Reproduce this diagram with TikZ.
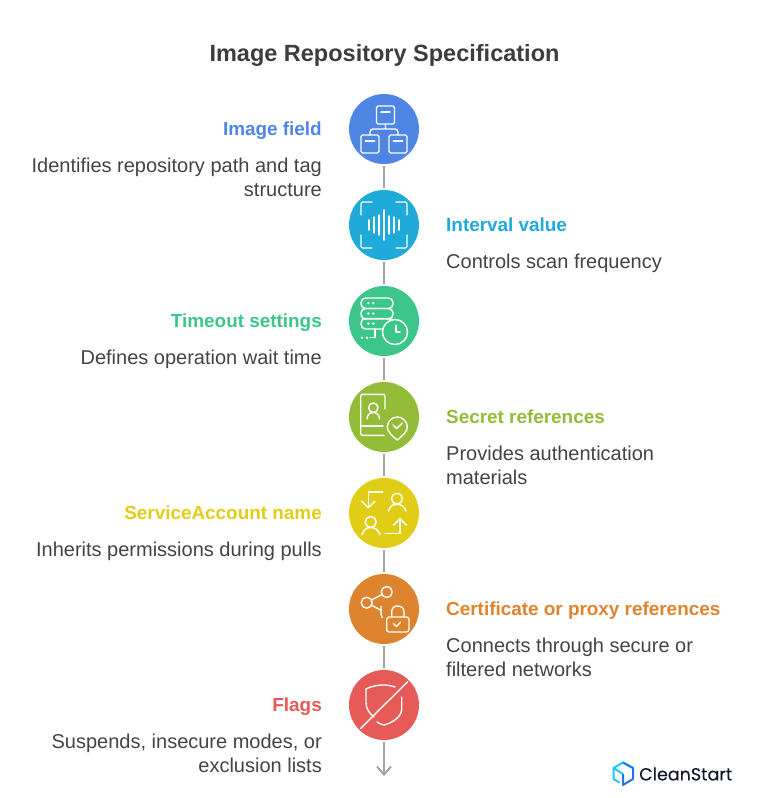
\documentclass[tikz,border=0pt]{standalone}
\usepackage{fontspec}
\setmainfont{Liberation Sans}
\newfontfamily\logofont[FakeBold=0.25]{Poppins}
\usetikzlibrary{arrows.meta}
\definecolor{cimage}{HTML}{4F86E6}
\definecolor{cinterval}{HTML}{1FAAD9}
\definecolor{ctimeout}{HTML}{3CC68A}
\definecolor{csecret}{HTML}{93BC38}
\definecolor{caccount}{HTML}{E2CD16}
\definecolor{ccert}{HTML}{DF842E}
\definecolor{cflags}{HTML}{E65A57}
\definecolor{ctext}{HTML}{444444}
\definecolor{ctitle}{HTML}{3D3D3D}
\definecolor{clink}{HTML}{A3A3A3}
\definecolor{clogo}{HTML}{14182E}
\definecolor{ccyan}{HTML}{1EC8F5}
\definecolor{cblue}{HTML}{1E78F0}

\begin{document}
\begin{tikzpicture}[
            x=1pt, y=-1pt,
            stepdot/.style={circle, minimum size=70pt, inner sep=0pt, outer sep=0pt},
            link/.style={draw=clink, line width=2pt, shorten <=2pt, shorten >=2pt},
            head/.style={font=\fontsize{18.9}{24}\selectfont\bfseries, text height=14pt, text depth=4pt, inner sep=0pt},
            desc/.style={font=\fontsize{20}{24}\selectfont, text=ctext, inner sep=0pt},
            icon/.style={draw=white, line width=1.4pt, line cap=round, line join=round},
        ]
            \useasboundingbox (0, 0) rectangle (757, 798);
            \fill[white] (0, 0) rectangle (757, 798);

            \node[font=\fontsize{23.5}{28}\selectfont\bfseries, text=ctitle, inner sep=0pt] (title) at (384.5, 55) {Image Repository Specification};

            %% the column of circles and what joins them
            \foreach \n/\cy/\col in {1/129/cimage, 2/225/cinterval, 3/321/ctimeout, 4/417/csecret,
                5/513/caccount, 6/609/ccert, 7/705/cflags}{
                \node[stepdot, fill=\col] (c\n) at (384, \cy) {};
            }
            \foreach \a/\b in {1/2, 2/3, 3/4, 4/5, 5/6, 6/7}{
                \draw[link] (c\a) -- (c\b);
            }
            \coordinate (tail) at (384, 776);
            \draw[link, shorten >=0pt, -{Straight Barb[length=8pt, width=14pt]}] (c7) -- (tail);

            %% left column
            \node[head, text=cimage, anchor=east] (h1) at (322, 130) {Image field};
            \node[desc, anchor=north east, align=right] (d1) at (322, 157.5) {Identifies repository path and tag\\structure};
            \node[head, text=ctimeout, anchor=east] (h3) at (322, 322) {Timeout settings};
            \node[desc, anchor=north east, align=right] (d3) at (322, 349.5) {Defines operation wait time};
            \node[head, text=caccount, anchor=east] (h5) at (322, 514) {ServiceAccount name};
            \node[desc, anchor=north east, align=right] (d5) at (322, 541.5) {Inherits permissions during pulls};
            \node[head, text=cflags, anchor=east] (h7) at (322, 706) {Flags};
            \node[desc, anchor=north east, align=right] (d7) at (322, 733.5) {Suspends, insecure modes, or\\exclusion lists};

            %% right column
            \node[head, text=cinterval, anchor=west] (h2) at (446, 226) {Interval value};
            \node[desc, anchor=north west, align=left] (d2) at (446, 253.5) {Controls scan frequency};
            \node[head, text=csecret, anchor=west] (h4) at (446, 418) {Secret references};
            \node[desc, anchor=north west, align=left] (d4) at (446, 445.5) {Provides authentication\\materials};
            \node[head, text=ccert, anchor=west] (h6) at (446, 610) {Certificate or proxy references};
            \node[desc, anchor=north west, align=left] (d6) at (446, 637.5) {Connects through secure or\\filtered networks};

            %% icon 1: tree of boxes
            \begin{scope}[shift={(c1)}]
                \draw[icon, rounded corners=1.5pt] (-7.5, -23) rectangle (10.5, -5);
                \draw[icon, rounded corners=1.5pt] (-23, 6) rectangle (-5, 24);
                \draw[icon, rounded corners=1.5pt] (5, 6) rectangle (23, 24);
                \draw[icon] (-3, -17) -- (6, -17) (-18.5, 12) -- (-9.5, 12) (9.5, 12) -- (18.5, 12);
                \draw[icon, rounded corners=3pt] (1.5, -5) -- (1.5, 0) (-14, 6) -- (-14, 0) -- (14, 0) -- (14, 6);
            \end{scope}

            %% icon 2: sound wave in a frame
            \begin{scope}[shift={(c2)}]
                \foreach \sx/\sy in {-1/-1, 1/-1, -1/1, 1/1}{
                    \draw[icon, rounded corners=1.5pt] (\sx*12, \sy*23) -- (\sx*23, \sy*23) -- (\sx*23, \sy*10);
                }
                \foreach \bx/\bh in {-15/5, -10/8, -5/10, 0/15, 5/9, 10/8, 15/5}{
                    \draw[icon] (\bx, -\bh) -- (\bx, \bh);
                }
            \end{scope}

            %% icon 3: server with clock
            \begin{scope}[shift={(c3)}]
                \foreach \ry in {-23, -12.5, -2.5}{
                    \draw[icon, rounded corners=4.5pt] (-23, \ry) rectangle (9, \ry+10.5);
                    \fill[white] (-15.7, \ry+5) circle (1.3) (-10.7, \ry+5) circle (1.3);
                }
                \draw[icon] (-9, 8) -- (-9, 16.7) -- (-14, 16.7);
                \fill[white] (-22, 16.7) circle (1.3) (-17, 16.7) circle (1.3);
                \draw[icon, fill=ctimeout] (11, 11) circle (12.5);
                \draw[icon] (12, 4.3) -- (12, 11) -- (16, 11);
            \end{scope}

            %% icon 4: badge with pin
            \begin{scope}[shift={(c4)}]
                \draw[icon, rounded corners=2pt] (1, -8) -- (1, -22.7) -- (-23.3, -22.7) -- (-23.3, 18.3) -- (0, 18.3);
                \draw[icon] (-22, 9) -- (-1, 9);
                \draw[icon] (-10.7, -9.3) circle (4.7);
                \draw[icon] (-17, 2) .. controls (-17, -2.5) and (-14, -4.5) .. (-10.7, -4.5) .. controls (-7.5, -4.5) and (-4.5, -2.5) .. (-4.5, 2);
                \draw[icon, fill=csecret] (13.3, 23) .. controls (7, 18) and (3.3, 14) .. (3.3, 10) .. controls (3.3, 4.5) and (8, 0) .. (13.3, 0) .. controls (18.5, 0) and (23.3, 4.5) .. (23.3, 10) .. controls (23.3, 14) and (19.5, 18) .. cycle;
                \draw[icon] (9, 8) -- (12.7, 11.5) -- (18.3, 6);
            \end{scope}

            %% icon 5: two people swapping
            \begin{scope}[shift={(c5)}]
                \draw[icon] (-1.3, -21) -- (-15.7, -21) -- (-15.7, -5.3);
                \draw[icon] (-22.3, -12) -- (-15.7, -5.3) -- (-9, -12);
                \draw[icon] (1, 20.7) -- (16, 20.7) -- (16, 5.7);
                \draw[icon] (9.3, 12.3) -- (16, 5.7) -- (22.7, 12.3);
                \draw[icon] (13, -14.3) circle (5.5);
                \draw[icon] (4.3, -2) .. controls (6, -6.5) and (9, -8.8) .. (13, -8.8) .. controls (17, -8.8) and (20.5, -6.5) .. (22, -2);
                \draw[icon] (-13.3, 9) circle (5.5);
                \draw[icon] (-22, 21.7) .. controls (-20.5, 17) and (-17.5, 14.5) .. (-13.3, 14.5) .. controls (-9, 14.5) and (-5.5, 17) .. (-4, 21.7);
            \end{scope}

            %% icon 6: shared nodes with lock
            \begin{scope}[shift={(c6)}]
                \draw[icon] (2.7, -17) circle (5.5) (-17.3, -6.3) circle (5.5);
                \draw[icon] (-12.5, -9) -- (-2, -14.5) (-12, -3.5) -- (-2.5, 1.5);
                \draw[icon] (-2.5, -2.5) .. controls (-3.5, 0) and (-3.5, 4) .. (-2, 8.5);
                \draw[icon, rounded corners=2.5pt] (2.7, 8) rectangle (25, 23);
                \draw[icon] (7.7, 8) -- (7.7, 3) .. controls (7.7, -1) and (10, -3) .. (13.8, -3) .. controls (17.5, -3) and (20, -1) .. (20, 3) -- (20, 8);
                \draw[icon] (9.3, 14.7) -- (12.7, 17.3) -- (16.7, 13);
            \end{scope}

            %% icon 7: crossed out shield
            \begin{scope}[shift={(c7)}]
                \draw[icon] (-23.3, 23.3) -- (23.7, -23.3);
                \draw[icon] (11, -18) .. controls (3, -21) and (-8, -21) .. (-18, -16) -- (-18, -2) .. controls (-18, 4) and (-14, 9) .. (-10, 12);
                \draw[icon] (17.7, -8) -- (17.7, 4) .. controls (17.7, 12) and (8, 18) .. (0, 20) .. controls (-3, 19.5) and (-5, 18.5) .. (-7, 17);
            \end{scope}

            %% logo
            \draw[ccyan, line width=2pt, line join=round] (623, 774) -- (613.5, 768) -- (623, 762.5) -- (633, 768);
            \draw[ccyan, line width=2pt, line join=round] (613.5, 768) -- (613.5, 779) -- (619.5, 782.5);
            \draw[cblue, line width=2pt, line join=round] (623, 762.5) -- (633, 768) -- (633, 779) -- (623, 785) -- (623, 774);
            \node[font=\logofont\fontsize{17.5}{20}\selectfont, text=clogo, anchor=west, inner sep=0pt] (logo) at (639, 774) {CleanStart};
        \end{tikzpicture}
\end{document}
